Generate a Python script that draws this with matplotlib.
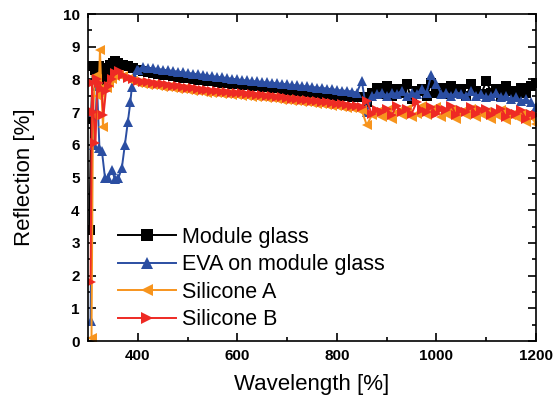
import numpy as np
import matplotlib
matplotlib.use("Agg")
from matplotlib import pyplot as plt
from matplotlib.ticker import MultipleLocator

plt.rcParams['font.family'] = ['Liberation Sans', 'DejaVu Sans']

# rejilla comun 400-1200 nm (paso 10 nm)
wl_grid = np.arange(400, 1201, 10)

# Module glass
wl_glass_uv = [303, 306, 310, 314, 318, 322, 326, 330, 335, 340, 345, 350, 355, 360, 365, 370, 380, 390]
r_glass_uv = [3.4, 6.8, 8.4, 8.3, 8.0, 8.4, 8.3, 7.9, 8.2, 8.35, 8.45, 8.5, 8.55, 8.5, 8.45, 8.45, 8.4, 8.35]
r_glass = [8.30, 8.25, 8.22, 8.20, 8.17, 8.15, 8.13, 8.10, 8.08, 8.05,
           8.03, 8.00, 7.98, 7.97, 7.95, 7.94, 7.92, 7.90, 7.88, 7.87,
           7.85, 7.83, 7.82, 7.80, 7.79, 7.78, 7.76, 7.75, 7.73, 7.70,
           7.68, 7.66, 7.65, 7.63, 7.62, 7.60, 7.58, 7.56, 7.54, 7.52,
           7.50, 7.49, 7.48, 7.47, 7.46, 7.45,
           7.30, 7.60, 7.75, 7.55, 7.80, 7.50, 7.70, 7.60, 7.85, 7.40,
           7.65, 7.70, 7.50, 7.90, 7.60, 7.75, 7.55, 7.80, 7.60, 7.70,
           7.50, 7.85, 7.65, 7.55, 7.95, 7.60, 7.70, 7.50, 7.80, 7.65,
           7.55, 7.75, 7.60, 7.80, 7.90]

# EVA on module glass
wl_eva_uv = [305, 309, 313, 318, 323, 328, 334, 341, 348, 354, 361, 368, 374, 380, 385, 388, 393, 398]
r_eva_uv = [0.6, 7.0, 6.0, 7.8, 5.9, 5.8, 5.0, 5.0, 5.23, 4.95, 4.98, 5.3, 6.0, 6.7, 7.3, 7.77, 8.1, 8.3]
r_eva = [8.30, 8.38, 8.36, 8.34, 8.32, 8.30, 8.28, 8.26, 8.24, 8.22,
         8.20, 8.18, 8.16, 8.14, 8.12, 8.10, 8.08, 8.06, 8.04, 8.02,
         8.00, 7.98, 7.97, 7.95, 7.94, 7.92, 7.91, 7.90, 7.88, 7.87,
         7.85, 7.83, 7.82, 7.80, 7.79, 7.77, 7.75, 7.74, 7.72, 7.70,
         7.68, 7.66, 7.65, 7.63, 7.60, 7.95,
         7.00, 7.50, 7.55, 7.60, 7.50, 7.60, 7.55, 7.65, 7.50, 7.60,
         7.55, 7.70, 7.60, 8.15, 7.85, 7.55, 7.60, 7.50, 7.60, 7.55,
         7.50, 7.65, 7.50, 7.55, 7.45, 7.50, 7.60, 7.45, 7.50, 7.40,
         7.45, 7.35, 7.40, 7.30, 7.15]

# Silicone A
wl_sila_uv = [307, 310, 314, 318, 321, 324, 327, 330, 334, 338, 342, 348, 355, 362, 370, 380, 390]
r_sila_uv = [0.1, 6.9, 8.1, 8.0, 7.5, 8.9, 7.6, 6.55, 7.8, 7.75, 7.9, 8.0, 8.1, 8.15, 8.1, 8.0, 7.95]
r_sila = [7.90, 7.87, 7.84, 7.82, 7.80, 7.78, 7.76, 7.74, 7.72, 7.70,
          7.68, 7.66, 7.64, 7.62, 7.60, 7.59, 7.57, 7.56, 7.55, 7.53,
          7.52, 7.50, 7.49, 7.47, 7.46, 7.45, 7.43, 7.42, 7.40, 7.38,
          7.36, 7.35, 7.33, 7.31, 7.30, 7.28, 7.26, 7.24, 7.22, 7.20,
          7.18, 7.16, 7.14, 7.12, 7.10, 7.05,
          6.60, 6.90, 7.00, 6.85, 7.05, 6.80, 7.00, 6.90, 7.10, 6.85,
          6.95, 7.20, 6.90, 7.00, 7.15, 6.85, 6.95, 7.05, 6.80, 7.00,
          6.90, 7.10, 6.85, 6.95, 7.00, 6.80, 6.90, 7.05, 6.75, 6.90,
          6.85, 6.95, 6.70, 6.85, 6.65]

# Silicone B
wl_silb_uv = [305, 308, 311, 315, 319, 323, 327, 331, 336, 342, 348, 355, 362, 370, 380, 390]
r_silb_uv = [1.8, 7.9, 7.0, 6.05, 8.0, 7.9, 7.7, 6.9, 7.65, 7.8, 8.0, 8.2, 8.25, 8.15, 8.05, 8.0]
r_silb = [7.95, 7.93, 7.91, 7.89, 7.87, 7.85, 7.83, 7.81, 7.79, 7.77,
          7.75, 7.73, 7.71, 7.69, 7.67, 7.66, 7.64, 7.63, 7.61, 7.60,
          7.58, 7.57, 7.55, 7.54, 7.52, 7.51, 7.49, 7.48, 7.46, 7.45,
          7.43, 7.41, 7.40, 7.38, 7.36, 7.35, 7.33, 7.31, 7.30, 7.28,
          7.26, 7.24, 7.22, 7.20, 7.18, 7.15,
          7.35, 6.95, 7.05, 7.00, 7.10, 6.90, 7.20, 7.00, 7.10, 6.95,
          7.30, 7.05, 7.00, 7.15, 6.95, 7.10, 7.05, 7.20, 6.90, 7.05,
          7.00, 7.15, 6.95, 7.05, 7.10, 6.90, 7.00, 7.10, 6.85, 7.00,
          6.95, 7.05, 6.80, 6.95, 6.90]

series = [
    ("Module glass", wl_glass_uv, r_glass_uv, r_glass, "black", "s"),
    ("EVA on module glass", wl_eva_uv, r_eva_uv, r_eva, "#2B4EA2", "^"),
    ("Silicone A", wl_sila_uv, r_sila_uv, r_sila, "#F7941D", "<"),
    ("Silicone B", wl_silb_uv, r_silb_uv, r_silb, "#EE2A24", ">"),
]

fig = plt.figure(figsize=(5.55, 4.01), dpi=100)
ax = fig.add_axes([0.1586, 0.1496, 0.8072, 0.8154])

for nombre, wl_uv, r_uv, r_vis, color, marca in series:
    x = np.concatenate([wl_uv, wl_grid])
    y = np.concatenate([r_uv, r_vis])
    ax.plot(x, y, color=color, marker=marca, markersize=6.5, linewidth=1.4,
            markeredgewidth=0, label=nombre)

ax.set_xlim(300, 1200)
ax.set_ylim(0, 10)
ax.xaxis.set_minor_locator(MultipleLocator(100))
ax.yaxis.set_major_locator(MultipleLocator(1))
ax.yaxis.set_minor_locator(MultipleLocator(0.5))
ax.set_xticks([400, 600, 800, 1000, 1200])
ax.tick_params(which='both', direction='in', top=True, right=True, width=1.2)
ax.tick_params(which='major', length=6, labelsize=11, pad=6)
ax.tick_params(which='minor', length=3)
for lab in ax.get_xticklabels() + ax.get_yticklabels():
    lab.set_fontweight('bold')
for s in ax.spines.values():
    s.set_linewidth(1.2)

ax.set_xlabel("Wavelength [%]", fontsize=16, labelpad=8)
ax.set_ylabel("Reflection [%]", fontsize=16, labelpad=20)

ax.legend(loc='upper left', bbox_to_anchor=(0.047, 0.375), frameon=False,
          fontsize=15.5, handlelength=2.7, numpoints=1, markerscale=1.25,
          labelspacing=0.3, handletextpad=0.3, borderaxespad=0)

plt.savefig("out.png", dpi=100)
